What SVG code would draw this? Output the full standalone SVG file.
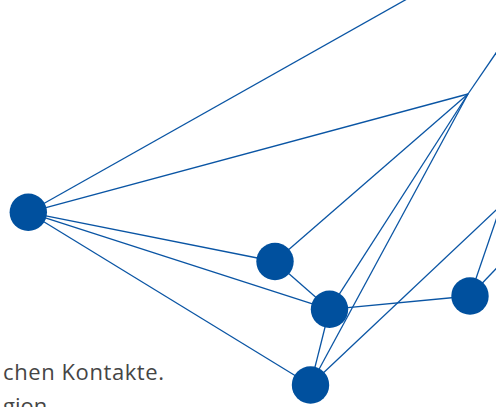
<svg xmlns="http://www.w3.org/2000/svg" width="496" height="407" viewBox="0 0 496 407">
<style>
.e{stroke:#0a55a4;stroke-width:1.3;fill:none}
.n{fill:#00509e}
.t{font-family:"Open Sans","Noto Sans",sans-serif;font-size:22px;fill:#454545}
</style>
<rect width="496" height="407" fill="#ffffff"/>
<g id="text">
<text class="t" x="3" y="380" textLength="161" lengthAdjust="spacing">chen Kontakte.</text>
<text class="t" x="3" y="414">gion</text>
</g>
<g id="connectors">
<line class="e" x1="28.3" y1="212.3" x2="424" y2="-10.6"/>
<line class="e" x1="28.3" y1="212.3" x2="468" y2="94"/>
<line class="e" x1="28.3" y1="212.3" x2="275" y2="261.5"/>
<line class="e" x1="28.3" y1="212.3" x2="329.5" y2="309.3"/>
<line class="e" x1="28.3" y1="212.3" x2="310.5" y2="385"/>
<line class="e" x1="275" y1="261.5" x2="468" y2="94"/>
<line class="e" x1="275" y1="261.5" x2="329.5" y2="309.3"/>
<line class="e" x1="329.5" y1="309.3" x2="468" y2="94"/>
<line class="e" x1="310.5" y1="385" x2="468" y2="94"/>
<line class="e" x1="468" y1="94" x2="510" y2="32.5"/>
<line class="e" x1="329.5" y1="309.3" x2="470" y2="296"/>
<line class="e" x1="310.5" y1="385" x2="510" y2="197"/>
<line class="e" x1="329.5" y1="309.3" x2="310.5" y2="385"/>
<line class="e" x1="470" y1="296" x2="510" y2="179"/>
<line class="e" x1="470" y1="296" x2="510" y2="254"/>
</g>
<g id="nodeA"><circle class="n" cx="28.3" cy="212.3" r="18.7"/></g>
<g id="nodeB"><circle class="n" cx="275" cy="261.5" r="18.7"/></g>
<g id="nodeC"><circle class="n" cx="329.5" cy="309.3" r="18.7"/></g>
<g id="nodeD"><circle class="n" cx="310.5" cy="385" r="18.7"/></g>
<g id="nodeE"><circle class="n" cx="470" cy="296" r="18.7"/></g>
</svg>
